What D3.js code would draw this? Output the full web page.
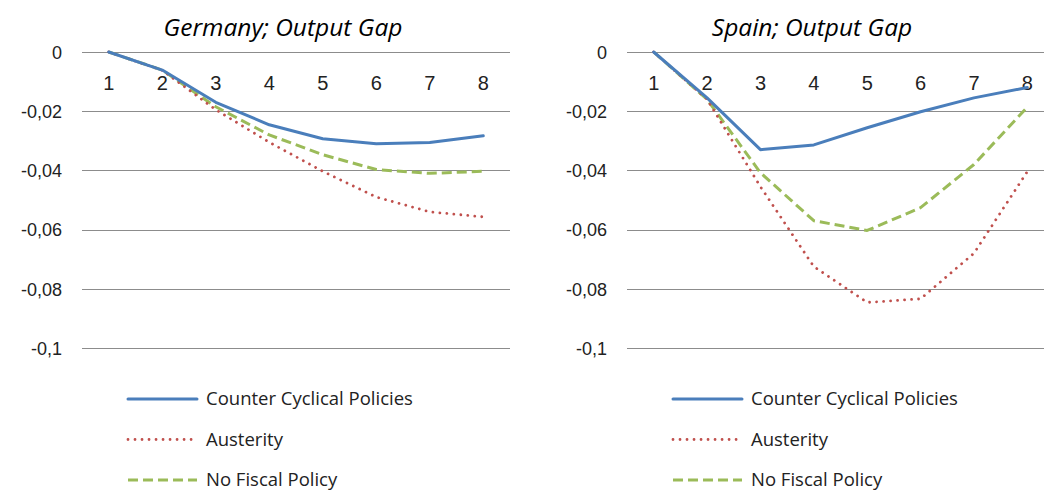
<!DOCTYPE html>
<html>
<head>
<meta charset="utf-8">
<script src="https://cdn.jsdelivr.net/npm/d3@7"></script>
<style>
body { margin:0; background:#fff; overflow:hidden; }
svg { font-family: "Open Sans", Calibri, sans-serif; }
.title { font-style: italic; font-size: 24.5px; fill:#000; }
.tick text { font-size: 18px; fill:#222; }
.leg { font-size: 18.5px; fill:#222; }
</style>
</head>
<body>
<div id="chart"></div>
<script>
var periods = [1, 2, 3, 4, 5, 6, 7, 8];
var yTicks = [0, -0.02, -0.04, -0.06, -0.08, -0.1];
var seriesNames = ["Counter Cyclical Policies", "Austerity", "No Fiscal Policy"];

// Germany
var deCounter = [0, -0.0061, -0.017, -0.0246, -0.0293, -0.031, -0.0306, -0.0283];
var deAusterity = [0, -0.0062, -0.0195, -0.0305, -0.0403, -0.049, -0.054, -0.0557];
var deNoFiscal = [0, -0.0061, -0.0185, -0.028, -0.0347, -0.0397, -0.041, -0.0403];

// Spain
var esCounter = [0, -0.0155, -0.033, -0.0314, -0.0256, -0.0202, -0.0155, -0.012];
var esAusterity = [0, -0.016, -0.0455, -0.0725, -0.0846, -0.0834, -0.068, -0.0404];
var esNoFiscal = [0, -0.016, -0.0408, -0.057, -0.0603, -0.0526, -0.038, -0.0186];

var colors = ["#4a7ebb", "#c0504d", "#9bbb59"];
var dashes = [null, "0.01,7", "10,5"];
var widths = [3, 2.8, 3];
var caps = ["round", "round", "butt"];

var svg = d3.select("#chart")
  .append("svg")
  .attr("width", 1044)
  .attr("height", 491);

var fmt = function(d){ return d == 0 ? "0" : d3.format(".2~f")(d).replace(".", ",").replace("−", "-"); };

var drawPanel = function(left, right, title, titleX, series, legendX)
{
  var x = d3.scaleBand()
    .domain(periods)
    .range([left, right]);

  var y = d3.scaleLinear()
    .domain([-0.1, 0])
    .range([348, 52]);

  var g = svg.append("g");

  // gridlines
  g.selectAll("line.grid")
    .data(yTicks)
    .enter()
    .append("line")
    .attr("class", "grid")
    .attr("x1", left)
    .attr("x2", right)
    .attr("y1", function(d){ return Math.round(y(d)) + 0.5; })
    .attr("y2", function(d){ return Math.round(y(d)) + 0.5; })
    .attr("stroke", "#8c8c8c")
    .attr("stroke-width", 1.2);

  // y axis labels
  var ya = g.append("g")
    .attr("transform", "translate(" + (left - 8) + ",0)")
    .call(d3.axisLeft(y).tickValues(yTicks).tickFormat(fmt).tickSize(0).tickPadding(12));
  ya.select(".domain").remove();
  ya.selectAll("text").attr("dy", "0.35em");

  // x axis labels, placed under the 0 line
  var xa = g.append("g")
    .attr("transform", "translate(0," + y(0) + ")")
    .call(d3.axisBottom(x).tickSize(0).tickPadding(24));
  xa.select(".domain").remove();
  xa.selectAll("text").style("font-size", "20px");

  var line = d3.line()
    .x(function(d, i){ return x(periods[i]) + x.bandwidth() / 2; })
    .y(function(d){ return y(d); });

  // draw green, red then blue so blue is on top
  [2, 1, 0].forEach(function(k){
    g.append("path")
      .datum(series[k])
      .attr("d", line)
      .attr("fill", "none")
      .attr("stroke", colors[k])
      .attr("stroke-width", widths[k])
      .attr("stroke-dasharray", dashes[k])
      .attr("stroke-linecap", caps[k])
      .attr("stroke-linejoin", "round");
  });

  g.append("text")
    .attr("class", "title")
    .attr("x", titleX)
    .attr("y", 36)
    .attr("text-anchor", "middle")
    .text(title);

  // legend
  var leg = g.selectAll("g.leg")
    .data(seriesNames)
    .enter()
    .append("g")
    .attr("transform", function(d, i){ return "translate(" + legendX + "," + (399 + i * 40.5) + ")"; });

  leg.append("line")
    .attr("x1", 0)
    .attr("x2", 69)
    .attr("stroke", function(d, i){ return colors[i]; })
    .attr("stroke-width", function(d, i){ return widths[i]; })
    .attr("stroke-dasharray", function(d, i){ return dashes[i]; })
    .attr("stroke-linecap", function(d, i){ return caps[i]; });

  leg.append("text")
    .attr("class", "leg")
    .attr("x", 78)
    .attr("dy", "0.35em")
    .text(function(d){ return d; });
}

drawPanel(82, 510, "Germany; Output Gap", 283, [deCounter, deAusterity, deNoFiscal], 128);
drawPanel(627, 1054, "Spain; Output Gap", 812, [esCounter, esAusterity, esNoFiscal], 673);
</script>
</body>
</html>
